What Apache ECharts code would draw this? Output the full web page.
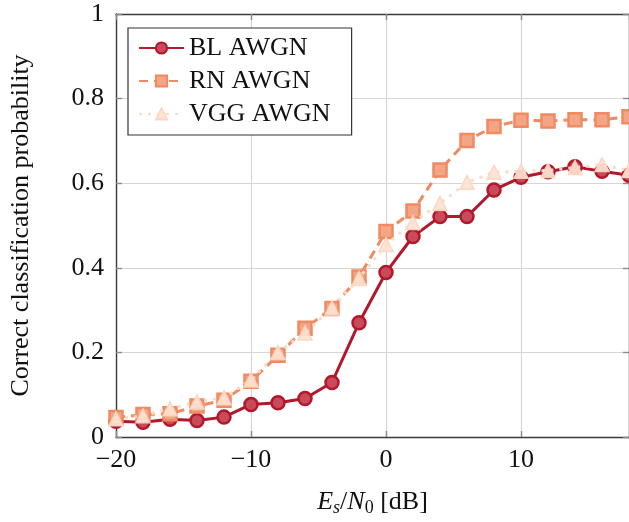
<!DOCTYPE html>
<html>
<head>
<meta charset="utf-8">
<script src="https://cdn.jsdelivr.net/npm/echarts@6/dist/echarts.min.js"></script>
<style>
html,body{margin:0;padding:0;background:#fff;}
#c{width:629px;height:522px;}
</style>
</head>
<body>
<div id="c"></div>
<script>
var snr = [-20,-18,-16,-14,-12,-10,-8,-6,-4,-2,0,2,4,6,8,10,12,14,16,18];
var blAwgn = [0.037,0.035,0.042,0.039,0.047,0.077,0.081,0.091,0.129,0.270,0.389,0.474,0.521,0.521,0.584,0.614,0.627,0.639,0.628,0.619];
var rnAwgn = [0.046,0.053,0.055,0.073,0.087,0.132,0.193,0.257,0.304,0.378,0.486,0.534,0.631,0.701,0.734,0.749,0.747,0.750,0.750,0.757];
var vggAwgn = [0.043,0.050,0.067,0.083,0.093,0.135,0.200,0.246,0.305,0.375,0.455,0.507,0.552,0.602,0.626,0.628,0.630,0.637,0.644,0.630];
var xTicks = [-20,-10,0,10];
var yTicks = [0,0.2,0.4,0.6,0.8,1];
var seriesNames = ['BL AWGN','RN AWGN','VGG AWGN'];

function pairs(vals){ return snr.map(function(x,i){ return [x, vals[i]]; }); }
var FONT = '"Liberation Serif", "DejaVu Serif", serif';
var chart = echarts.init(document.getElementById('c'), null, {renderer:'canvas'});
var axisLineStyle = {color:'#3a3a3a', width:1.4};
var tickStyle = {color:'#8a8a8a', width:1.4};
var gridLineStyle = {color:'#d6d6d6', width:1.2};
chart.setOption({
  animation:false,
  backgroundColor:'#fff',
  grid:{left:113, top:14, width:517, height:430, containLabel:false},
  legend:{
    left:128, top:28, orient:'vertical',
    data:seriesNames,
    backgroundColor:'#fff', borderColor:'#333', borderWidth:1.2,
    padding:[7,21,8,10], itemGap:7, itemWidth:45, itemHeight:14, itemTextGap:8,
    textStyle:{fontFamily:FONT, fontSize:26, color:'#111'}
  },
  xAxis:[{
    type:'value', min:-20, max:18, interval:10, position:'bottom',
    axisLine:{show:true, onZero:false, lineStyle:axisLineStyle},
    axisTick:{show:true, inside:true, length:6, lineStyle:tickStyle},
    splitLine:{show:true, lineStyle:gridLineStyle},
    axisLabel:{show:true, margin:10, fontFamily:FONT, fontSize:26, color:'#111', showMaxLabel:false,
      formatter:function(v){ return xTicks.indexOf(v)>=0 ? String(v).replace('-', '\u2212') : ''; }},
    name:'{i|E}{sub|s}{n|/}{i|N}{subr|0}{n| [dB]}', nameLocation:'middle', nameGap:50,
    nameTextStyle:{fontFamily:FONT, fontSize:26, color:'#111',
      rich:{i:{fontFamily:FONT, fontSize:26, fontStyle:'italic', color:'#111'},
            n:{fontFamily:FONT, fontSize:26, color:'#111'},
            sub:{fontFamily:FONT, fontSize:18, fontStyle:'italic', color:'#111', verticalAlign:'bottom', padding:[12,0,0,0]},
            subr:{fontFamily:FONT, fontSize:18, color:'#111', verticalAlign:'bottom', padding:[12,0,0,0]}}}
  },{
    type:'value', min:-20, max:18, interval:10, position:'top',
    axisLine:{show:true, onZero:false, lineStyle:axisLineStyle},
    axisTick:{show:true, inside:true, length:6, lineStyle:tickStyle},
    splitLine:{show:false}, axisLabel:{show:false}
  }],
  yAxis:[{
    type:'value', min:0, max:1, interval:0.2, position:'left',
    axisLine:{show:true, onZero:false, lineStyle:axisLineStyle},
    axisTick:{show:true, inside:true, length:6, lineStyle:tickStyle},
    splitLine:{show:true, lineStyle:gridLineStyle},
    axisLabel:{show:true, margin:12, fontFamily:FONT, fontSize:26, color:'#111',
      formatter:function(v){ for(var k=0;k<yTicks.length;k++){ if(Math.abs(yTicks[k]-v)<1e-9) return String(yTicks[k]); } return ''; }},
    name:'Correct classification probability', nameLocation:'middle', nameGap:82, nameRotate:90,
    nameTextStyle:{fontFamily:FONT, fontSize:26, color:'#111'}
  },{
    type:'value', min:0, max:1, interval:0.2, position:'right',
    axisLine:{show:true, onZero:false, lineStyle:axisLineStyle},
    axisTick:{show:true, inside:true, length:6, lineStyle:tickStyle},
    splitLine:{show:false}, axisLabel:{show:false}
  }],
  series:[
    {name:seriesNames[0], type:'line', data:pairs(blAwgn), symbol:'circle', symbolSize:13,
     lineStyle:{color:'#b2182b', width:3, type:'solid'},
     itemStyle:{color:'#c84a5b', borderColor:'#b2182b', borderWidth:2.5}, z:2},
    {name:seriesNames[1], type:'line', data:pairs(rnAwgn), symbol:'rect', symbolSize:13,
     lineStyle:{color:'#ef8a62', width:3, type:[9,6]},
     itemStyle:{color:'#f3a585', borderColor:'#ef8a62', borderWidth:2.5}, z:3},
    {name:seriesNames[2], type:'line', data:pairs(vggAwgn), symbol:'triangle', symbolSize:14,
     lineStyle:{color:'#fddbc7', width:3, type:[3,6]},
     itemStyle:{color:'#fde2d2', borderColor:'#fcd6c0', borderWidth:1.5, opacity:0.92}, z:4}
  ]
});
</script>
</body>
</html>
